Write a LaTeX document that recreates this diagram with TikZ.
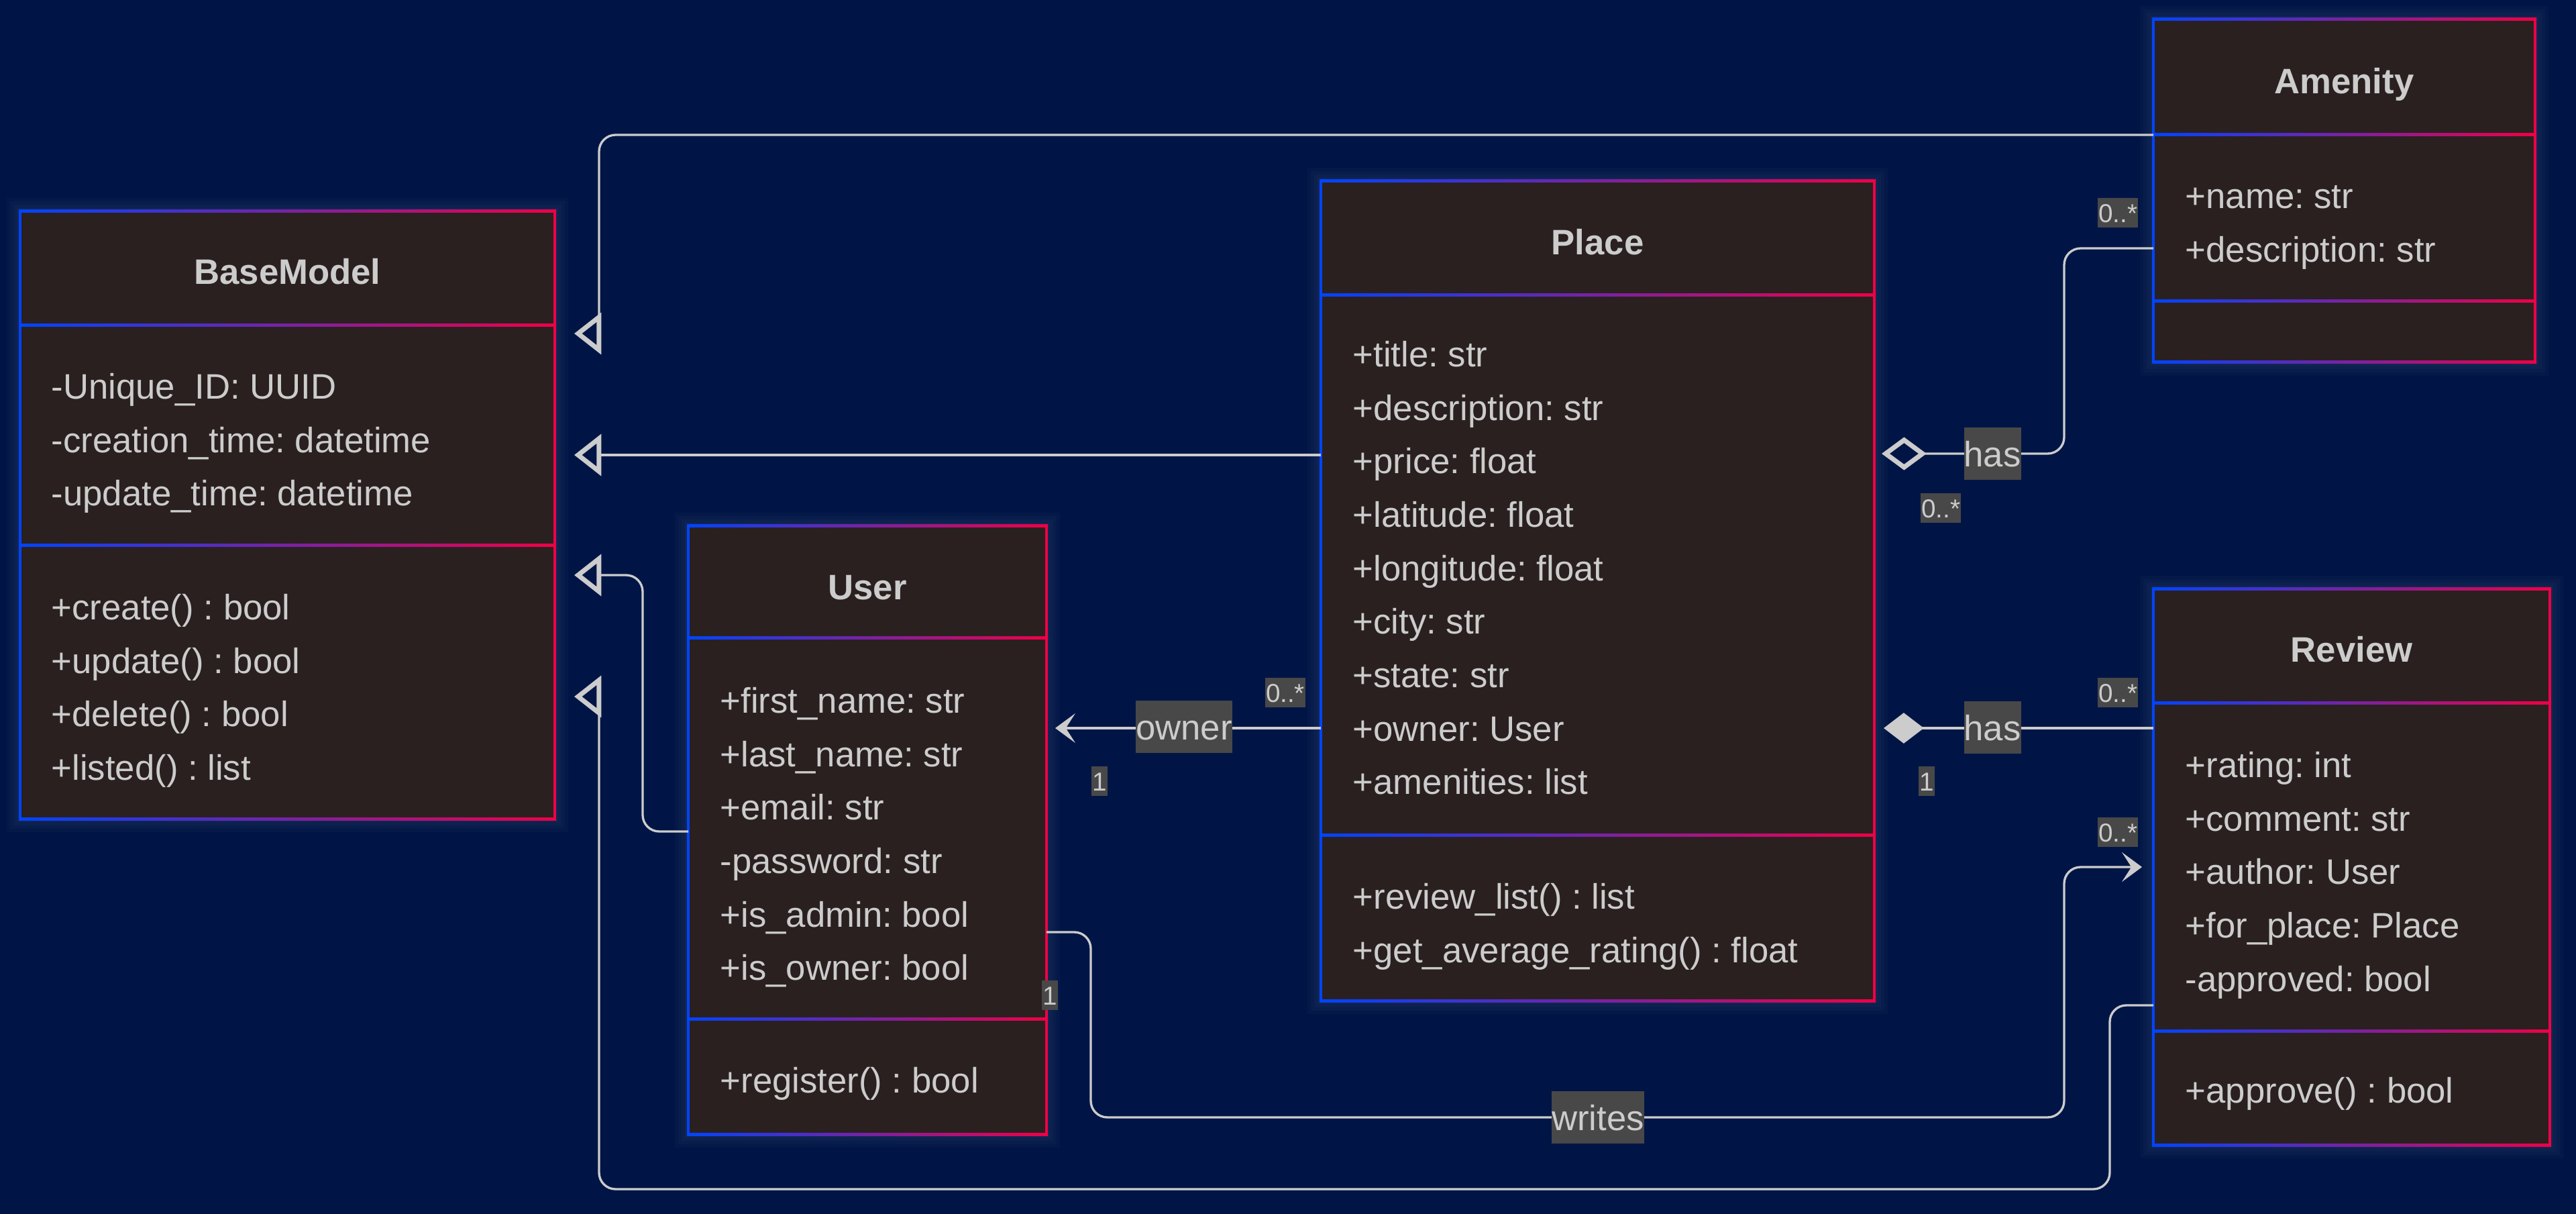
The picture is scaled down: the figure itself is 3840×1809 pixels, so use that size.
\documentclass[tikz,border=0pt]{standalone}
\usepackage{fontspec}
\setmainfont{Liberation Sans}
\usetikzlibrary{arrows.meta}
\frenchspacing

\definecolor{navybg}{RGB}{0,21,70}
\definecolor{boxfill}{RGB}{42,32,32}
\definecolor{edgeblue}{RGB}{0,68,255}
\definecolor{edgered}{RGB}{240,0,70}
\definecolor{inkgray}{RGB}{204,204,204}
\definecolor{tagfill}{RGB}{72,72,72}

\begin{document}
\begin{tikzpicture}
  [x=0.1mm,y=-0.1mm,
   classbox/.style={rectangle,fill=boxfill,inner sep=0,outer sep=0},
   title/.style={font=\fontsize{15}{18}\selectfont\bfseries,text=inkgray,
     text height=11pt,text depth=0pt,inner sep=0},
   member/.style={anchor=west,font=\fontsize{15}{18}\selectfont,text=inkgray,
     text height=11pt,text depth=0pt,inner sep=0},
   tag/.style={fill=tagfill,text=inkgray,font=\fontsize{15}{18}\selectfont,
     inner xsep=0pt,inner ysep=0pt,minimum height=7.8mm,text height=11pt,text depth=0pt},
   mult/.style={fill=tagfill,text=inkgray,font=\fontsize{11}{13}\selectfont,
     inner xsep=0.4pt,inner ysep=0pt,minimum height=4.4mm,text height=8pt,text depth=0pt},
   link/.style={draw=inkgray,line width=0.95pt,rounded corners=7pt},
   inherit/.style={link,-{Triangle[length=11.5pt,width=17.5pt,fill=navybg,line width=2pt]},
     shorten >=2.9mm},
   assoc/.style={link,-{Stealth[length=8.5pt,width=12.5pt,inset=4pt]}},
   aggreg/.style={link,-{Diamond[length=19pt,width=14pt,fill=navybg,line width=2pt]},
     shorten >=1.1mm},
   compos/.style={link,-{Diamond[length=17pt,width=13pt]},shorten >=1.4mm}]

  \fill[navybg] (0,0) rectangle (3840,1809);

  % class frames: name / left / top / right / bottom / two dividers
  \foreach \n/\xa/\ya/\xb/\yb/\da/\db in {base/30/315/827/1220/485/813,
              user/1026/784/1560/1690/951/1518,
              place/1969/270/2794/1491/440/1244,
              amenity/3210/29/3779/540/201/449,
              review/3210/878/3801/1706/1048/1536}
  {
    \foreach \g in {5,10,15,20}
      \fill[white,opacity=0.02] (\xa-\g,\ya-\g) rectangle (\xb+\g,\yb+\g);
    \node[classbox,minimum width={(\xb-\xa)*0.1mm},minimum height={(\yb-\ya)*0.1mm}]
      (\n) at ({(\xa+\xb)/2},{(\ya+\yb)/2}) {};
    \foreach \y in {\ya,\da,\db,\yb}
      \shade[left color=edgeblue,right color=edgered] (\xa-2,\y-2) rectangle (\xb+2,\y+2);
    \fill[edgeblue] (\xa-2,\ya-2) rectangle (\xa+2,\yb+2);
    \fill[edgered] (\xb-2,\ya-2) rectangle (\xb+2,\yb+2);
  }

  % titles
  \foreach \n/\txt/\y in {base/BaseModel/404,user/User/874,place/Place/360,
              amenity/Amenity/120,review/Review/967}
    \node[title] (\n-title) at (\n.center |- 0,\y) {\txt};

  % members
  \foreach \t [count=\i] in {-Unique\_ID: UUID,-creation\_time: datetime,-update\_time: datetime}
    \node[member] (base-a\i) at (76,{575+(\i-1)*79.7}) {\t};
  \foreach \t [count=\i] in {+create() : bool,+update() : bool,+delete() : bool,+listed() : list}
    \node[member] (base-m\i) at (76,{904+(\i-1)*79.7}) {\t};
  \foreach \t [count=\i] in {+first\_name: str,+last\_name: str,+email: str,-password: str,
              +is\_admin: bool,+is\_owner: bool}
    \node[member] (user-a\i) at (1073,{1043+(\i-1)*79.7}) {\t};
  \node[member] (user-m1) at (1073,1609) {+register() : bool};
  \foreach \t [count=\i] in {+title: str,+description: str,+price: float,+latitude: float,
              +longitude: float,+city: str,+state: str,+owner: User,+amenities: list}
    \node[member] (place-a\i) at (2016,{527+(\i-1)*79.7}) {\t};
  \foreach \t [count=\i] in {+review\_list() : list,+get\_average\_rating() : float}
    \node[member] (place-m\i) at (2016,{1335+(\i-1)*79.7}) {\t};
  \foreach \t [count=\i] in {+name: str,+description: str}
    \node[member] (amenity-a\i) at (3257,{291+(\i-1)*79.7}) {\t};
  \foreach \t [count=\i] in {+rating: int,+comment: str,+author: User,+for\_place: Place,-approved: bool}
    \node[member] (review-a\i) at (3257,{1139+(\i-1)*79.7}) {\t};
  \node[member] (review-m1) at (3257,1624) {+approve() : bool};

  % inheritance
  \draw[inherit] (amenity.west |- 0,201) -- (893,201) -- (893,497) -- (base.east |- 0,497);
  \draw[inherit] (place.west |- 0,678) -- (base.east |- 0,678);
  \draw[inherit] (user.west |- 0,1239) -- (958,1239) -- (958,857) -- (base.east |- 0,857);
  \draw[inherit] (review.west |- 0,1498) -- (3145,1498) -- (3145,1772) -- (893,1772)
    -- (893,1038) -- (base.east |- 0,1038);

  % associations
  \draw[assoc,shorten >=1.3mm] (place.west |- 0,1085) -- (user.east |- 0,1085);
  \draw[assoc,shorten >=1.7mm] (user.east |- 0,1389) -- (1626,1389) -- (1626,1665)
    -- (3077,1665) -- (3077,1292) -- (review.west |- 0,1292);
  \draw[aggreg] (amenity.west |- 0,370) -- (3077,370) -- (3077,676) -- (place.east |- 0,676);
  \draw[compos] (review.west |- 0,1085) -- (place.east |- 0,1085);

  % labels
  \node[tag] (owner-lbl) at (1765,1083) {owner};
  \node[tag] (has-amenity) at (2970,676) {has};
  \node[tag] (has-review) at (2970,1084) {has};
  \node[tag] (writes-lbl) at (2382,1665) {writes};

  % multiplicities
  \node[mult] (m-owner-place) at (1916,1032) {0..*};
  \node[mult] (m-owner-user) at (1639,1164) {1};
  \node[mult] (m-has-amenity) at (3157,317) {0..*};
  \node[mult] (m-has-place) at (2893,757) {0..*};
  \node[mult] (m-has-review) at (3157,1032) {0..*};
  \node[mult] (m-has-one) at (2872,1164) {1};
  \node[mult] (m-writes-user) at (1565,1483) {1};
  \node[mult] (m-writes-review) at (3157,1240) {0..*};

\end{tikzpicture}
\end{document}
